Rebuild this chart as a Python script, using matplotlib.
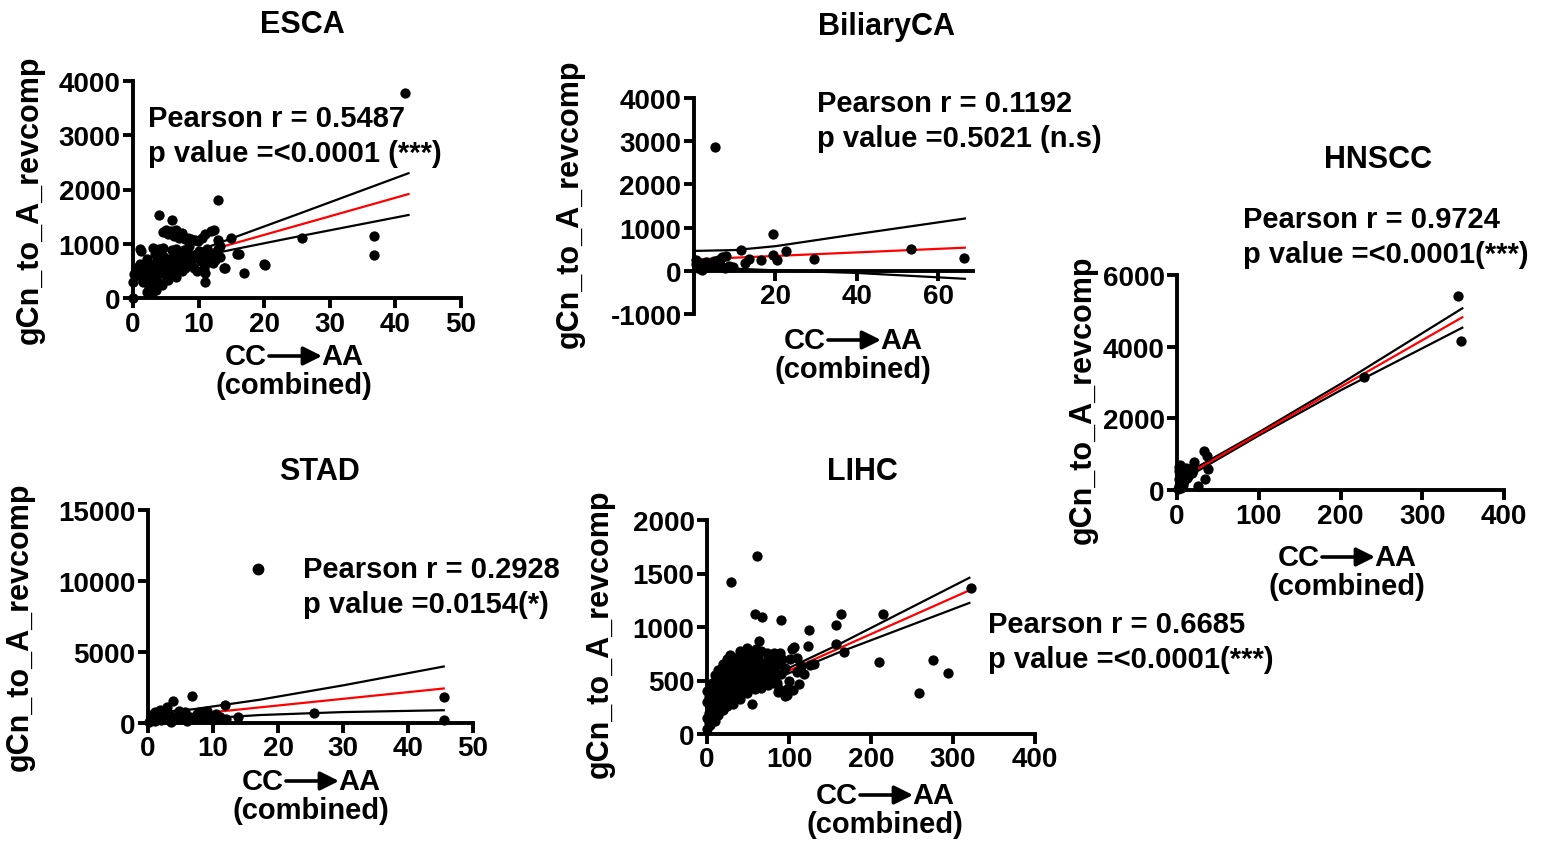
import matplotlib.pyplot as plt
from matplotlib.patches import FancyArrowPatch
from matplotlib.lines import Line2D

# ------------------------------
# Data
# ------------------------------
esca_x = [41.5, 13, 3.9, 6, 25.7, 36.8, 36.8, 19.9, 20.1, 16.9, 13.9, 10.9, 15.9, 14.9, 16.1,
          0, 0.05, 0.1, 1.0, 1.2, 2.1, 2.7, 3.1, 3.9, 4.6, 5.9,
          4.6, 5.0, 5.4, 5.8, 6.2, 6.6, 7.0, 7.4, 7.9, 8.4, 8.9, 9.4, 9.9, 10.5, 11.0, 11.9, 12.4, 13, 13.2,
          1.5, 1.8, 2, 2.3, 2.5, 2.8, 3, 3.2, 3.4, 3.6, 3.8, 4, 4.2, 4.4, 4.6, 4.8, 5, 5.2, 5.4, 5.6, 5.8,
          6, 6.2, 6.4, 6.6, 6.8, 7, 7.2, 7.4, 7.6, 7.8, 8, 8.2, 8.5, 8.8, 9, 9.3, 9.6, 10, 10.3, 10.6, 11,
          11.3, 11.6, 12, 12.5, 13, 13.3, 14, 0.5, 1, 0.8, 1.3, 2.2, 3.3, 4.3, 9.8, 11, 2.5, 3.5, 2.9, 1.5,
          6.5, 8.5, 12.2, 10.8]
esca_y = [3780, 1800, 1530, 1440, 1110, 1150, 790, 630, 600, 460, 560, 290, 810, 1100, 820,
          0, 290, 450, 900, 870, 110, 120, 920, 910, 920, 880,
          1210, 1250, 1180, 1230, 1150, 1250, 1100, 1200, 1090, 1100, 1090, 1060, 1050, 1100, 1180, 1240, 1250, 1060, 960,
          500, 560, 420, 300, 620, 480, 200, 380, 560, 700, 300, 470, 620, 240, 540, 760, 400, 650, 330, 580, 720,
          460, 820, 560, 380, 690, 600, 780, 500, 650, 880, 560, 720, 640, 800, 700, 560, 760, 860, 680, 800, 620,
          900, 750, 820, 700, 900, 750, 560, 560, 620, 420, 380, 720, 820, 880, 500, 460, 180, 150, 100, 300,
          900, 950, 640, 560]
esca_fit_x = [0, 42]
esca_fit_y = [480, 1916]
esca_ci_x = [0, 6, 12, 25, 42]
esca_ci_hi = [555, 725, 965, 1540, 2300]
esca_ci_lo = [405, 645, 815, 1130, 1530]

bil_x = [5.2, 19.5, 11.5, 22.6, 29.4, 16.4, 19.3, 20.3, 13.6, 12.5, 6.8, 7.8, 0.6, 0.6, 1.5, 2.5, 3.5,
         4.5, 5.5, 6.5, 7.5, 8.5, 9.5, 3, 5, 53.4, 66.3, 1, 2, 6]
bil_y = [2860, 855, 470, 455, 280, 260, 370, 240, 280, 180, 320, 350, 240, 150, 180, 130, 90,
         160, 110, 150, 60, 120, 90, 200, 220, 510, 290, 60, 30, 260]
bil_fit_x = [0, 66.5]
bil_fit_y = [262, 535]
bil_ci_x = [0, 10, 20, 40, 66.5]
bil_ci_hi = [460, 480, 570, 850, 1210]
bil_ci_lo = [110, 50, 10, -50, -185]

hn_x = [2, 3, 4, 5, 6, 7, 8, 9, 10, 12, 14, 15, 3, 5, 1, 2, 4, 7, 18, 20, 11, 6, 9, 13,
        33.4, 36.3, 21.2, 38.3, 34.3, 26.1, 229, 344, 348]
hn_y = [650, 520, 420, 300, 200, 560, 380, 250, 450, 330, 520, 600, 100, 50, 20, 300, 700, 150, 480, 550,
        620, 450, 500, 400, 1090, 950, 770, 590, 310, 120, 3150, 5420, 4150]
hn_fit_x = [3, 349]
hn_fit_y = [300, 4820]
hn_ci_x = [3, 20, 100, 200, 349]
hn_ci_hi = [400, 580, 1610, 2960, 5070]
hn_ci_lo = [200, 460, 1520, 2780, 4530]

stad_x = [6.7, 3.9, 2.9, 11.8, 9, 1.1, 4.7, 11.1, 13.9, 8.5, 0.5, 1, 1.5, 2, 2.5, 3, 3.5, 4, 4.5, 5,
          5.5, 6, 6.5, 7, 7.5, 8, 9.5, 10, 10.5, 12, 0.2, 2.2, 3.3, 5.7, 7.8, 25.5, 45.5, 45.5, 1.8, 0.8]
stad_y = [1910, 1560, 1100, 1260, 860, 750, 860, 400, 400, 300, 300, 150, 450, 200, 550, 300, 100, 400,
          250, 600, 350, 150, 450, 250, 600, 400, 500, 200, 650, 300, 50, 700, 650, 750, 800, 700, 1850,
          200, 900, 600]
stad_fit_x = [0, 45.5]
stad_fit_y = [292, 2430]
stad_ci_x = [0, 7, 17.2, 30, 45.5]
stad_ci_hi = [700, 970, 1640, 2650, 3980]
stad_ci_lo = [0, 270, 560, 770, 900]

lihc_x = [61, 29, 58.7, 67.6, 90, 163, 215, 157, 124, 321.5, 210, 275, 294, 258, 167.5, 64, 60, 105.5,
          104, 89, 82, 34, 98, 105, 95, 126, 131, 101.5, 109.6, 73, 80, 97.4, 54.6, 87, 123, 157,
          0, 0, 0, 0, 2, 2, 2, 4, 4, 4, 6, 6, 6, 8, 8, 8, 10, 10, 10, 10, 12, 12, 12, 14, 14, 14, 14,
          16, 16, 16, 18, 18, 18, 18, 20, 20, 20, 20, 22, 22, 22, 24, 24, 24, 24, 26, 26, 28, 28, 28, 28,
          30, 30, 30, 32, 32, 32, 32, 35, 35, 35, 38, 38, 38, 40, 40, 40, 40, 43, 43, 43, 46, 46, 46,
          49, 49, 49, 49, 52, 52, 52, 55, 55, 55, 58, 58, 58, 62, 62, 62, 66, 66, 66, 66, 70, 70,
          74, 74, 74, 78, 78, 82, 82, 82, 86, 86,
          90, 95, 100, 110, 115, 85, 92, 88, 118, 112]
lihc_y = [1660, 1425, 1120, 1096, 1064, 1117, 1124, 1015, 975, 1360, 673, 689, 568, 382, 766, 869, 790, 816,
          797, 754, 754, 667, 419, 413, 357, 642, 657, 698, 714, 760, 745, 360, 279, 390, 822, 838,
          50, 150, 300, 400, 100, 200, 350, 80, 250, 420, 150, 300, 480, 200, 350, 250, 120, 280, 420, 550,
          220, 380, 500, 180, 320, 460, 600, 260, 400, 550, 300, 450, 350, 620, 220, 380, 500, 650,
          300, 420, 560, 260, 480, 620, 700, 350, 520, 300, 420, 580, 740, 380, 500, 650, 280, 450, 600,
          700, 350, 520, 640, 420, 560, 720, 330, 480, 620, 780, 400, 540, 680, 460, 600, 740, 380, 520,
          660, 800, 450, 580, 700, 500, 620, 760, 420, 560, 680, 480, 600, 720, 430, 540, 660, 780, 500,
          620, 460, 580, 700, 520, 640, 480, 600, 700, 560, 650,
          560, 620, 500, 580, 640, 480, 700, 420, 560, 470]
lihc_fit_x = [0, 320]
lihc_fit_y = [252, 1343]
lihc_ci_x = [0, 40, 80, 160, 320]
lihc_ci_hi = [275, 403, 545, 835, 1460]
lihc_ci_lo = [229, 373, 505, 760, 1225]

# ------------------------------
# Layout helpers (pixel based)
# ------------------------------
W, H = 1545, 845
plt.rcParams['font.family'] = ['Liberation Sans', 'DejaVu Sans']
plt.rcParams['font.weight'] = 'bold'
plt.rcParams['axes.unicode_minus'] = False

fig = plt.figure(figsize=(W / 100, H / 100), dpi=100)


def fx(x):
    return x / W


def fy(y):
    return 1 - y / H


def panel(left, right, top, bottom, xlim, ylim, xticks, yticks):
    ax = fig.add_axes([fx(left), fy(bottom), (right - left) / W, (bottom - top) / H])
    ax.set_xlim(xlim)
    ax.set_ylim(ylim)
    ax.set_xticks(xticks)
    ax.set_yticks(yticks)
    for s in ["top", "right"]:
        ax.spines[s].set_visible(False)
    for s in ["left", "bottom"]:
        ax.spines[s].set_linewidth(2.8)
    ax.tick_params(width=2.8, length=7, labelsize=20, pad=2)
    ax.patch.set_alpha(0)
    return ax


def draw(ax, x, y, fx_, fy_, cx, hi, lo):
    ax.plot(cx, hi, color="black", lw=1.6, zorder=2)
    ax.plot(cx, lo, color="black", lw=1.6, zorder=2)
    ax.plot(fx_, fy_, color="red", lw=1.6, zorder=2)
    ax.scatter(x, y, s=55, c="black", linewidths=0, zorder=3, clip_on=False)


def labels(title, tpos, stats, spos, ylab_pos, xlab_c, xlab_y):
    fig.text(fx(tpos[0]), fy(tpos[1]), title, fontsize=22, ha="center", va="center")
    fig.text(fx(spos[0]), fy(spos[1]), stats[0], fontsize=21, ha="left", va="center")
    fig.text(fx(spos[0]), fy(spos[1] + 35), stats[1], fontsize=21, ha="left", va="center")
    fig.text(fx(ylab_pos[0]), fy(ylab_pos[1]), "gCn_to_A_revcomp", fontsize=22,
             rotation=90, ha="center", va="center")
    # CC --> AA (combined)
    fig.text(fx(xlab_c - 27), fy(xlab_y), "CC", fontsize=21, ha="right", va="center")
    fig.text(fx(xlab_c + 27), fy(xlab_y), "AA", fontsize=21, ha="left", va="center")
    fig.add_artist(FancyArrowPatch((fx(xlab_c - 25), fy(xlab_y)), (fx(xlab_c + 28), fy(xlab_y)),
                                   transform=fig.transFigure, arrowstyle="-|>", mutation_scale=28,
                                   lw=2.6, color="black", shrinkA=0, shrinkB=0))
    fig.text(fx(xlab_c), fy(xlab_y + 29), "(combined)", fontsize=21, ha="center", va="center")


# ------------------------------
# ESCA
# ------------------------------
ax = panel(133, 461, 82, 299, (0, 50), (0, 4000), [0, 10, 20, 30, 40, 50], [0, 1000, 2000, 3000, 4000])
draw(ax, esca_x, esca_y, esca_fit_x, esca_fit_y, esca_ci_x, esca_ci_hi, esca_ci_lo)
labels("ESCA", (302, 25), ["Pearson r = 0.5487", "p value =<0.0001 (***)"], (148, 119),
       (30, 200), 294, 357)

# ------------------------------
# BiliaryCA
# ------------------------------
ax = panel(694, 973, 99, 315, (0, 68.5), (-1000, 4000), [20, 40, 60],
           [-1000, 0, 1000, 2000, 3000, 4000])
ax.spines["bottom"].set_position(("data", 0))
draw(ax, bil_x, bil_y, bil_fit_x, bil_fit_y, bil_ci_x, bil_ci_hi, bil_ci_lo)
labels("BiliaryCA", (887, 27), ["Pearson r = 0.1192", "p value =0.5021 (n.s)"], (817, 104),
       (570, 204), 853, 341)

# ------------------------------
# HNSCC
# ------------------------------
ax = panel(1177, 1504, 276, 491, (0, 400), (0, 6000), [0, 100, 200, 300, 400], [0, 2000, 4000, 6000])
draw(ax, hn_x, hn_y, hn_fit_x, hn_fit_y, hn_ci_x, hn_ci_hi, hn_ci_lo)
labels("HNSCC", (1378, 160), ["Pearson r = 0.9724", "p value =<0.0001(***)"], (1243, 220),
       (1083, 400), 1347, 558)

# ------------------------------
# STAD
# ------------------------------
ax = panel(148, 473, 511, 724, (0, 50), (0, 15000), [0, 10, 20, 30, 40, 50], [0, 5000, 10000, 15000])
draw(ax, stad_x, stad_y, stad_fit_x, stad_fit_y, stad_ci_x, stad_ci_hi, stad_ci_lo)
labels("STAD", (319, 472), ["Pearson r = 0.2928", "p value =0.0154(*)"], (303, 570),
       (20, 627), 311, 782)
# legend symbol next to the stats text
fig.add_artist(Line2D([fx(258)], [fy(570)], marker="o", markersize=7.5, color="black",
                      linestyle="none", transform=fig.transFigure))

# ------------------------------
# LIHC
# ------------------------------
ax = panel(707, 1035, 521, 735, (0, 400), (0, 2000), [0, 100, 200, 300, 400],
           [0, 500, 1000, 1500, 2000])
draw(ax, lihc_x, lihc_y, lihc_fit_x, lihc_fit_y, lihc_ci_x, lihc_ci_hi, lihc_ci_lo)
labels("LIHC", (862, 472), ["Pearson r = 0.6685", "p value =<0.0001(***)"], (988, 625),
       (600, 634), 885, 796)

fig.savefig("out.png", dpi=100)
